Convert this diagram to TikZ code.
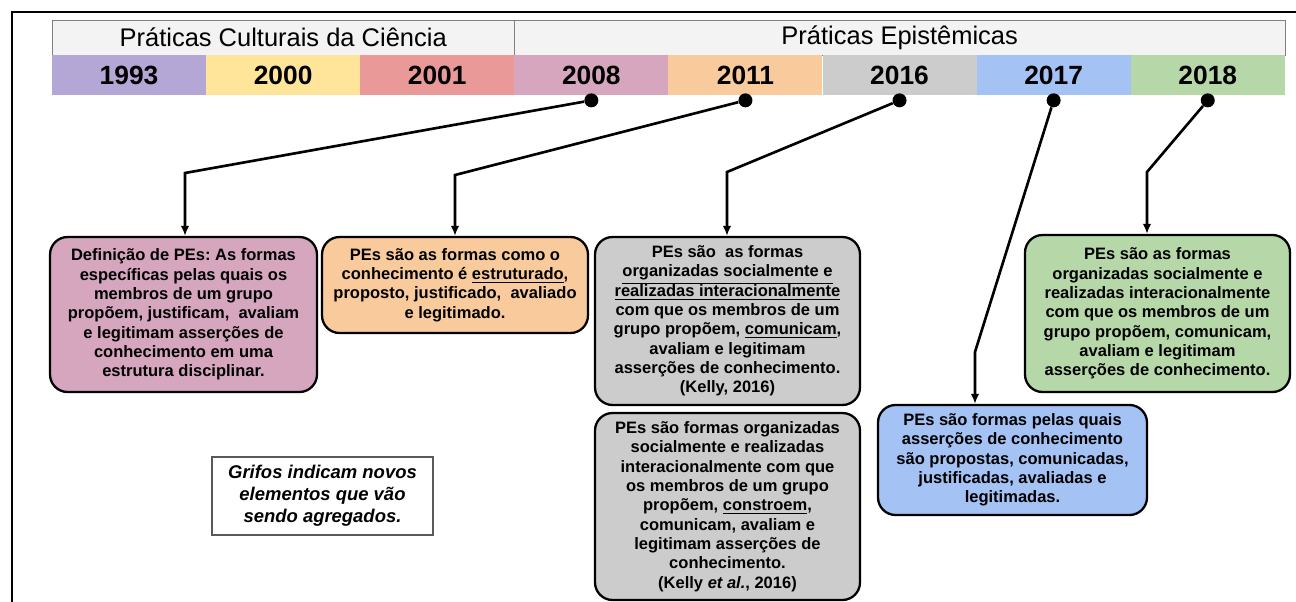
\documentclass[tikz,border=0pt]{standalone}
\usepackage{fontspec}
\setmainfont{Liberation Sans}
\usepackage{xcolor}
\usepackage{tikz}
\usetikzlibrary{arrows.meta}
\frenchspacing

\definecolor{c1993}{HTML}{B4A7D6}
\definecolor{c2000}{HTML}{FFE599}
\definecolor{c2001}{HTML}{EA9999}
\definecolor{c2008}{HTML}{D5A6BD}
\definecolor{c2011}{HTML}{F9CB9C}
\definecolor{c2016}{HTML}{CCCCCC}
\definecolor{c2017}{HTML}{A4C2F4}
\definecolor{c2018}{HTML}{B6D7A8}
\definecolor{headfill}{HTML}{F3F3F3}

\tikzset{
	yearcell/.style={minimum width=3.082cm, minimum height=0.8cm, inner sep=0pt,
		font=\fontsize{15}{16}\selectfont\bfseries},
	headcell/.style={draw=gray, fill=headfill, minimum height=0.7cm, inner sep=0pt,
		font=\fontsize{14.5}{16}\selectfont},
	dot/.style={circle, fill=black, minimum size=0.28cm, inner sep=0pt},
	defbox/.style={draw, line width=1.3pt, rounded corners=0.35cm, align=center,
		inner sep=0pt, font=\fontsize{9.4}{11}\selectfont\bfseries},
	link/.style={line width=1.5pt, -{Latex[length=2mm,width=1.7mm]}}
}

\begin{document}
\begin{tikzpicture}[x=0.02cm, y=-0.02cm]
		\useasboundingbox (0,0) rectangle (1296,602);

		% Frame
		\draw[line width=1pt] (1296,12) -- (12,12) -- (12,602);

		% Header
		\node[headcell, minimum width=9.248cm] (hcult) at (283.2,37.5) {Práticas Culturais da Ciência};
		\node[headcell, minimum width=15.412cm] (hepis) at (899.7,37.5) {Práticas Epistêmicas};

		% Years
		\foreach \yr [count=\i] in {1993,2000,2001,2008,2011,2016,2017,2018}
			\node[yearcell, fill=c\yr] (y\yr) at ({52+154.1*(\i-0.5)},75) {\yr};

		% Dots
		\foreach \yr in {2008,2011,2016,2017,2018}
			\node[dot] (d\yr) at ([yshift=-0.1cm]y\yr.south) {};

		% Definitions
		\node[defbox, fill=c2008, minimum width=5.34cm, minimum height=3.1cm] (b2008) at (183.5,314.5)
			{Definição de PEs: As formas\\ específicas pelas quais os\\ membros de um grupo\\
			 propõem, justificam, \ avaliam\\ e legitimam asserções de\\ conhecimento em uma\\ estrutura disciplinar.};
		\node[defbox, fill=c2011, minimum width=5.32cm, minimum height=1.92cm] (b2011) at (455,285)
			{PEs são as formas como o\\ conhecimento é \underline{estruturado},\\
			 proposto, justificado, \ avaliado\\ e legitimado.};
		\node[defbox, fill=c2016, minimum width=5.3cm, minimum height=3.36cm] (b2016) at (727.5,321)
			{PEs são \ as formas\\ \underline{organizadas socialmente e}\\ \underline{realizadas interacionalmente}\\
			 com que os membros de um\\ grupo propõem, \underline{comunicam},\\ avaliam e legitimam\\
			 asserções de conhecimento.\\ (Kelly, 2016)};
		\node[defbox, fill=c2016, minimum width=5.3cm, minimum height=3.74cm] (b2016b) at (727.5,506.5)
			{PEs são formas organizadas\\ socialmente e realizadas\\ interacionalmente com que\\
			 os membros de um grupo\\ propõem, \underline{constroem},\\ comunicam, avaliam e\\
			 legitimam asserções de\\ conhecimento.\\ (Kelly \textit{et al.}, 2016)};
		\node[defbox, fill=c2017, minimum width=5.38cm, minimum height=2.2cm] (b2017) at (1012.5,460)
			{PEs são formas pelas quais\\ asserções de conhecimento\\ são propostas, comunicadas,\\
			 justificadas, avaliadas e\\ legitimadas.};
		\node[defbox, fill=c2018, minimum width=5.3cm, minimum height=3.14cm] (b2018) at (1157.5,313.5)
			{PEs são as formas\\ organizadas socialmente e\\ realizadas interacionalmente\\
			 com que os membros de um\\ grupo propõem, comunicam,\\ avaliam e legitimam\\
			 asserções de conhecimento.};

		% Note
		\node[draw=gray!70!black, line width=0.8pt, minimum width=4.42cm, minimum height=1.56cm,
			align=center, font=\fontsize{10.5}{12.5}\selectfont\bfseries\itshape] (note) at (322.5,496)
			{Grifos indicam novos\\ elementos que vão\\ sendo agregados.};

		% Connectors
		\coordinate (k2008) at (185,173);
		\coordinate (k2011) at (455,175);
		\coordinate (k2016) at (727,172);
		\coordinate (k2017) at (975,352);
		\coordinate (k2018) at (1147,172);
		\draw[link] (d2008) -- (k2008) -- (k2008 |- b2008.north);
		\draw[link] (d2011) -- (k2011) -- (k2011 |- b2011.north);
		\draw[link] (d2016) -- (k2016) -- (k2016 |- b2016.north);
		\draw[link] (d2017) -- (k2017) -- (k2017 |- b2017.north);
		\draw[link] (d2018) -- (k2018) -- (k2018 |- b2018.north);
	\end{tikzpicture}
\end{document}
